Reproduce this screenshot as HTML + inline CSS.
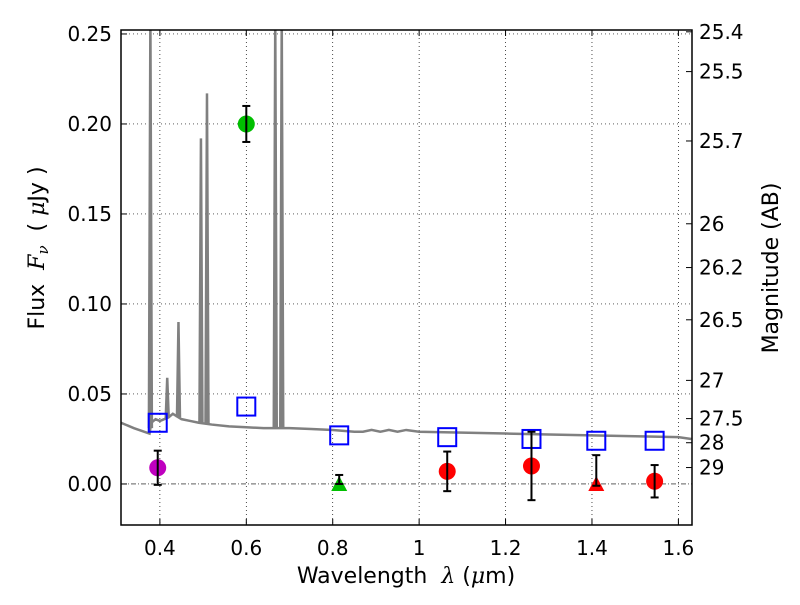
<!DOCTYPE html>
<html><head><meta charset="utf-8"><style>
body{margin:0;background:#fff;width:800px;height:600px;overflow:hidden}
svg{font-family:"DejaVu Sans","Liberation Sans",sans-serif}
</style></head><body>
<svg id="chart" width="800" height="600" viewBox="0 0 800 600"></svg>
<script>
// ---- data ----
const xTicks=[0.4,0.6,0.8,1.0,1.2,1.4,1.6];
const xTickLabels=["0.4","0.6","0.8","1","1.2","1.4","1.6"];
const yTicks=[0,0.05,0.10,0.15,0.20,0.25];
const yTickLabels=["0.00","0.05","0.10","0.15","0.20","0.25"];
const magTicks=[25.4,25.5,25.7,26,26.2,26.5,27,27.5,28,29];
const magLabels=["25.4","25.5","25.7","26","26.2","26.5","27","27.5","28","29"];
// continuum spectrum
const specWave=[0.31,0.34,0.37,0.376,0.38,0.39,0.40,0.41,0.42,0.43,0.45,0.47,0.49,0.52,0.56,0.60,0.64,0.66,0.70,0.75,0.80,0.85,0.87,0.89,0.91,0.93,0.95,0.97,1.0,1.1,1.2,1.3,1.4,1.5,1.6,1.63];
const specFlux=[0.034,0.031,0.0285,0.028,0.034,0.036,0.035,0.036,0.037,0.039,0.036,0.035,0.034,0.033,0.032,0.0315,0.031,0.031,0.031,0.0305,0.030,0.029,0.029,0.030,0.029,0.030,0.029,0.030,0.029,0.0285,0.028,0.0275,0.027,0.0265,0.026,0.025];
// emission lines
const lineWave=[0.378,0.417,0.443,0.495,0.509,0.667,0.682];
const linePeak=[0.26,0.059,0.090,0.192,0.217,0.26,0.26];
// photometry
const blueX=[0.395,0.60,0.815,1.065,1.26,1.41,1.545];
const blueY=[0.034,0.043,0.027,0.026,0.025,0.024,0.024];
const ptX=[0.395,0.60,1.065,1.26,1.545];
const ptY=[0.009,0.200,0.007,0.010,0.0015];
const ptErr=[0.0095,0.010,0.011,0.019,0.009];
const ptColor=["#bf00bf","#00bf00","#ff0000","#ff0000","#ff0000"];
const triX=[0.815,1.41];
const triY=[0.0,0.0];
const triErrLo=[0.0,-0.001];
const triErrHi=[0.005,0.016];
const triColor=["#00bf00","#ff0000"];

const L=121,R=692,T=30,B=525;
const X0=0.31,X1=1.6315,Y0=-0.0228,Y1=0.2522;
const sx=v=>L+(v-X0)/(X1-X0)*(R-L);
const sy=v=>B-(v-Y0)/(Y1-Y0)*(B-T);
const NS="http://www.w3.org/2000/svg";
const svg=document.getElementById('chart');
function mk(tag,attrs,parent){const e=document.createElementNS(NS,tag);for(const k in attrs)e.setAttribute(k,attrs[k]);(parent||svg).appendChild(e);return e;}

const defs=mk('defs',{});const cp=mk('clipPath',{id:'cp'},defs);mk('rect',{x:L,y:T,width:R-L,height:B-T},cp);
const plot=mk('g',{'clip-path':'url(#cp)'});



// grid
xTicks.forEach(v=>{const g=mk('line',{x1:sx(v),x2:sx(v),y1:T,y2:B,stroke:'#000','stroke-width':0.7,'stroke-dasharray':'1,3'},plot);

});
yTicks.forEach(v=>{const g=mk('line',{x1:L,x2:R,y1:sy(v),y2:sy(v),stroke:'#000','stroke-width':0.7,'stroke-dasharray':v===0?'5,2,1,2':'1,3'},plot);

});

// spectrum
const pts=specWave.map((w,i)=>sx(w)+','+sy(specFlux[i])).join(' ');
const sp=mk('polyline',{points:pts,fill:'none',stroke:'#808080','stroke-width':2.5},plot);


lineWave.forEach((w,i)=>{
  let base=specFlux[0];for(let j=0;j<specWave.length-1;j++){if(w>=specWave[j]&&w<=specWave[j+1]){const t=(w-specWave[j])/(specWave[j+1]-specWave[j]);base=specFlux[j]+t*(specFlux[j+1]-specFlux[j]);}}
  const x=sx(w);
  const e=mk('polyline',{points:`${x-1.5},${sy(base)} ${x},${sy(linePeak[i])} ${x+1.5},${sy(base)}`,fill:'#808080',stroke:'#808080','stroke-width':2.5},plot);
  
  
});

function errbar(x,lo,hi){const g=mk('g',{stroke:'#000','stroke-width':2},plot);


mk('line',{x1:sx(x),x2:sx(x),y1:sy(lo),y2:sy(hi)},g);
mk('line',{x1:sx(x)-4,x2:sx(x)+4,y1:sy(lo),y2:sy(lo)},g);
mk('line',{x1:sx(x)-4,x2:sx(x)+4,y1:sy(hi),y2:sy(hi)},g);}

// blue squares
blueX.forEach((v,i)=>{const r=mk('rect',{x:sx(v)-9,y:sy(blueY[i])-9,width:18,height:18,fill:'none',stroke:'#0000ff','stroke-width':2},plot);

});
// triangles
triX.forEach((v,i)=>{const x=sx(v),y=sy(triY[i]);
const t=mk('polygon',{points:`${x},${y-8} ${x-8},${y+7} ${x+8},${y+7}`,fill:triColor[i]},plot);


errbar(v,triErrLo[i],triErrHi[i]);});
// circles
ptX.forEach((v,i)=>{const c=mk('circle',{cx:sx(v),cy:sy(ptY[i]),r:8.5,fill:ptColor[i]},plot);


errbar(v,ptY[i]-ptErr[i],ptY[i]+ptErr[i]);});

// frame
const fr=mk('rect',{x:L,y:T,width:R-L,height:B-T,fill:'none',stroke:'#000','stroke-width':1.5});



// x ticks
xTicks.forEach((v,i)=>{mk('line',{x1:sx(v),x2:sx(v),y1:B,y2:B-6,stroke:'#000'});mk('line',{x1:sx(v),x2:sx(v),y1:T,y2:T+6,stroke:'#000'});
const t=mk('text',{x:sx(v),y:B+30,'font-size':20,'text-anchor':'middle'});t.textContent=xTickLabels[i];

});
yTicks.forEach((v,i)=>{mk('line',{x1:L,x2:L+6,y1:sy(v),y2:sy(v),stroke:'#000'});
const t=mk('text',{x:L-9,y:sy(v)+7,'font-size':20,'text-anchor':'end'});t.textContent=yTickLabels[i];

});
magTicks.forEach((m,i)=>{const f=Math.pow(10,(23.9-m)/2.5);const y=sy(f);
mk('line',{x1:R,x2:R-6,y1:y,y2:y,stroke:'#000'});
const t=mk('text',{x:R+7,y:y+7,'font-size':20});t.textContent=magLabels[i];

});

// axis titles
const xt=mk('text',{x:406,y:583,'font-size':22,'text-anchor':'middle'});
xt.innerHTML='Wavelength&#160; <tspan font-style="italic" font-family="DejaVu Serif, serif">λ</tspan> (<tspan font-style="italic" font-family="DejaVu Serif, serif">μ</tspan>m)';


const yt=mk('text',{x:0,y:0,'font-size':22,'text-anchor':'middle',transform:'translate(44,248) rotate(-90)'});
yt.innerHTML='Flux&#160; <tspan font-style="italic" font-family="DejaVu Serif, serif">F</tspan><tspan font-style="italic" font-size="15" dy="4" font-family="DejaVu Serif, serif">ν</tspan><tspan dy="-4">&#160; (&#160;</tspan><tspan font-style="italic" font-family="DejaVu Serif, serif">μ</tspan>Jy )';


const rt=mk('text',{x:0,y:0,'font-size':22,'text-anchor':'middle',transform:'translate(778,268) rotate(-90)'});
rt.textContent='Magnitude (AB)';


</script>
</body></html>
